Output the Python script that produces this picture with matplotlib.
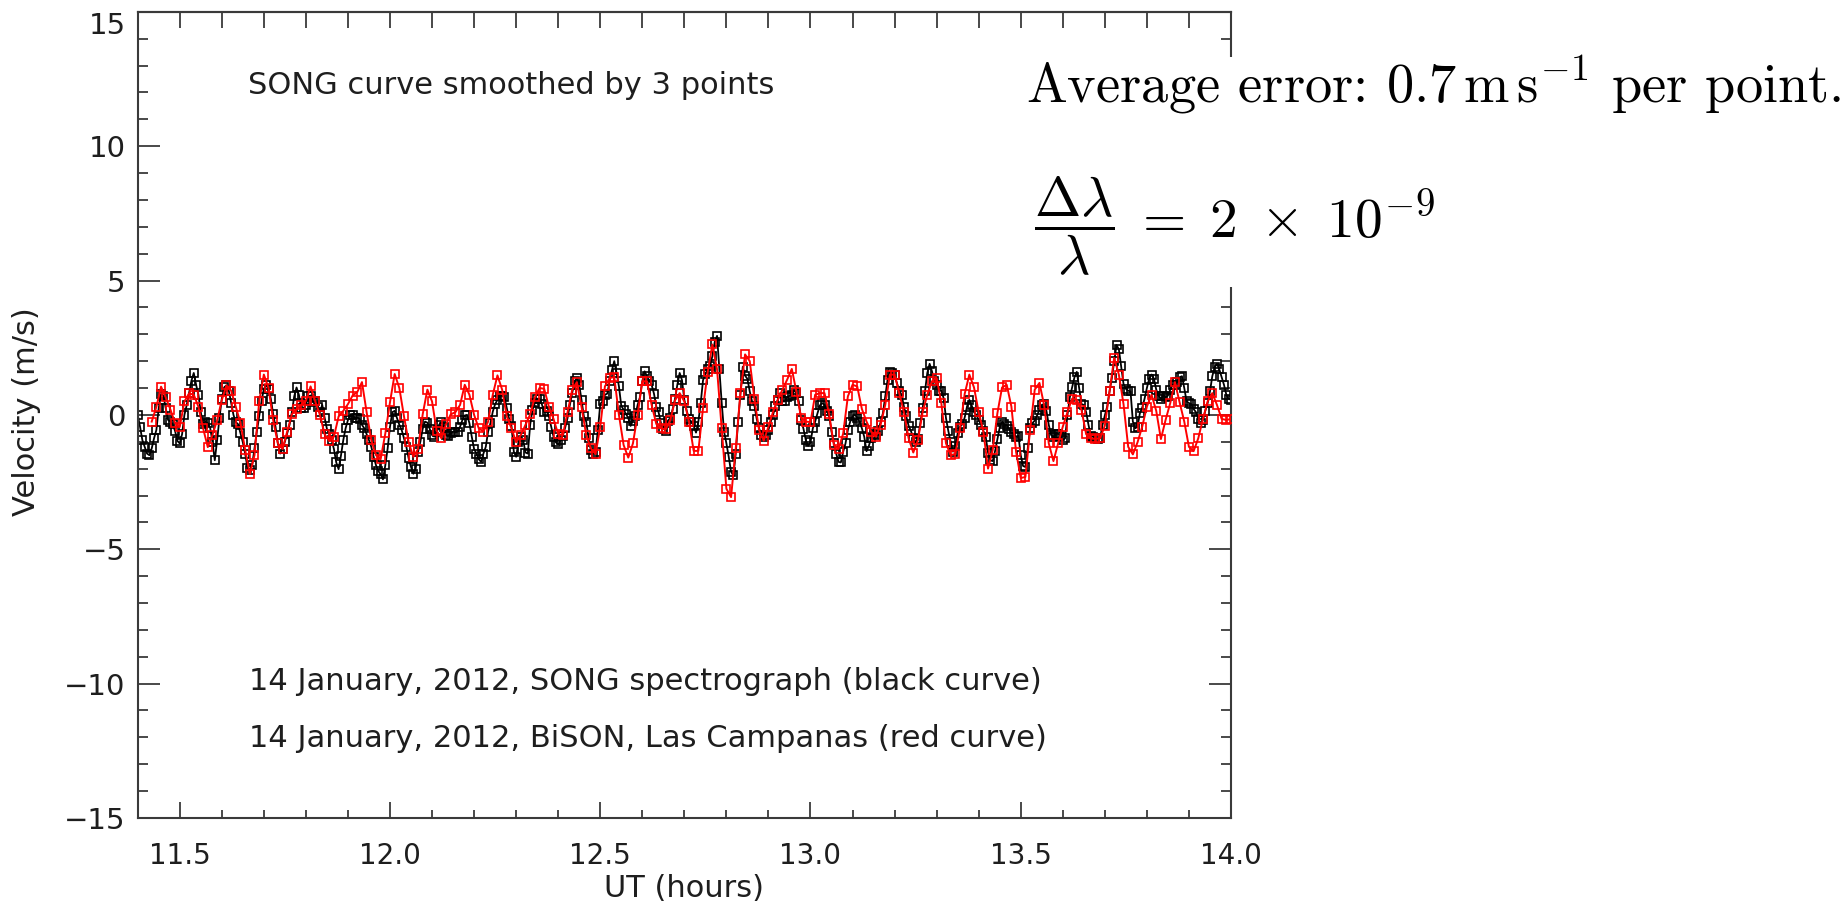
import numpy as np
import matplotlib
matplotlib.use('Agg')
import matplotlib.pyplot as plt
from matplotlib.ticker import MultipleLocator, FormatStrFormatter
from matplotlib.patches import Rectangle

plt.rcParams['mathtext.fontset'] = 'cm'
plt.rcParams['font.family'] = ['DejaVu Sans']

# SONG spectrograph, 20 s cadence, smoothed by 3 points (m/s)
song_start = 11.4
song_step = 20.0 / 3600.0
song_vel = [
    0.0, -0.44, -0.94, -1.19, -1.44, -1.5, -1.25, -0.87, -0.56, 0.25,
    0.78, 0.72, 0.25, -0.19, -0.25, -0.35, -0.6, -0.97, -1.06, -0.72,
    0.0, 0.37, 0.81, 1.27, 1.56, 1.12, 0.75, 0.1, -0.35, -0.25,
    -0.31, -0.47, -1.0, -1.69, -0.94, -0.12, 0.6, 1.02, 1.1, 0.9,
    0.44, 0.0, -0.27, -0.35, -0.69, -1.02, -1.44, -1.97, -2.06, -1.87,
    -1.25, -0.62, -0.06, 0.5, 0.97, 1.1, 0.97, 0.6, 0.02, -0.44,
    -1.06, -1.44, -1.27, -1.0, -0.69, -0.37, 0.1, 0.69, 1.02, 0.75,
    0.25, 0.25, 0.37, 0.69, 0.72, 0.47, 0.52, 0.31, 0.1, 0.37,
    -0.1, -0.52, -0.72, -0.94, -1.27, -1.77, -2.02, -1.52, -0.94, -0.5,
    -0.19, 0.0, -0.02, -0.12, -0.1, -0.15, -0.37, -0.5, -0.72, -0.94,
    -1.19, -1.56, -1.87, -2.09, -2.21, -2.4, -1.87, -1.25, -0.44, 0.1,
    0.15, -0.12, -0.37, -0.56, -0.87, -1.19, -1.62, -1.94, -2.19, -2.0,
    -1.37, -1.0, -0.52, -0.25, -0.29, -0.52, -0.75, -0.81, -0.65, -0.37,
    -0.27, -0.44, -0.75, -0.77, -0.69, -0.62, -0.65, -0.62, -0.44, -0.19,
    -0.02, 0.0, -0.31, -0.81, -1.27, -1.44, -1.65, -1.75, -1.44, -1.19,
    -0.62, -0.31, 0.12, 0.4, 0.56, 0.69, 0.72, 0.65, 0.25, -0.15,
    -0.4, -1.37, -1.56, -1.0, -0.81, -0.94, -1.4, -1.44, -0.37, 0.19,
    0.44, 0.6, 0.6, 0.4, 0.1, 0.15, -0.06, -0.44, -0.81, -1.02,
    -1.1, -0.94, -0.77, -0.47, -0.12, 0.37, 0.81, 1.25, 1.37, 1.12,
    0.55, -0.06, -0.25, -0.87, -1.31, -1.44, -1.37, -0.56, 0.41, 0.5,
    0.75, 0.79, 1.25, 1.66, 2.0, 1.56, 1.06, 0.34, 0.19, 0.04,
    -0.12, -0.41, -0.21, -0.04, 0.37, 0.66, 1.25, 1.62, 1.44, 1.27,
    1.12, 0.79, 0.31, 0.09, -0.31, -0.51, -0.59, -0.21, -0.12, 0.21,
    0.59, 1.12, 1.56, 1.29, 0.56, 0.16, -0.16, -0.25, -0.41, -0.66,
    -0.25, 0.44, 1.29, 1.52, 1.69, 1.81, 2.19, 2.71, 2.94, 1.69,
    0.44, -0.62, -1.06, -1.56, -2.12, -2.25, -1.44, -0.25, 0.75, 1.79,
    1.46, 1.34, 0.87, 0.5, 0.34, -0.16, -0.5, -0.75, -0.81, -0.75,
    -0.56, -0.25, 0.0, 0.34, 0.56, 0.81, 0.5, 0.5, 0.66, 0.71,
    0.75, 0.91, 0.81, 0.5, -0.19, -0.52, -0.94, -1.15, -1.02, -0.5,
    -0.25, 0.06, 0.35, 0.44, 0.37, 0.15, -0.06, -0.62, -1.06, -1.44,
    -1.75, -1.77, -1.37, -1.06, -0.56, -0.25, -0.06, 0.0, -0.1, -0.25,
    -0.5, -0.81, -1.35, -1.15, -0.85, -0.72, -0.75, -0.6, -0.27, 0.06,
    0.69, 1.31, 1.6, 1.56, 1.47, 1.19, 0.9, 0.75, 0.31, -0.06,
    -0.4, -0.6, -0.85, -1.02, -0.9, -0.31, 0.25, 0.87, 1.56, 1.9,
    1.62, 1.25, 1.1, 0.9, 0.9, 0.62, -0.12, -0.6, -1.0, -1.37,
    -1.15, -0.69, -0.44, -0.35, -0.1, 0.31, 0.56, 0.35, 0.1, 0.0,
    -0.19, -0.37, -0.6, -0.81, -1.4, -1.69, -1.72, -1.35, -0.9, -0.47,
    -0.25, -0.35, -0.4, -0.52, -0.65, -0.72, -0.81, -0.77, -1.5, -1.9,
    -1.94, -1.25, -0.5, -0.31, -0.21, -0.02, 0.19, 0.37, 0.4, 0.15,
    -0.37, -0.75, -0.81, -0.72, -0.7, -0.77, -0.94, -0.87, 0.0, 0.65,
    1.02, 1.4, 1.6, 1.0, 0.4, 0.37, 0.1, -0.37, -0.77, -0.82,
    -0.87, -0.9, -0.87, -0.37, -0.02, 0.31, 0.87, 1.37, 2.0, 2.6,
    2.44, 1.81, 1.15, 0.97, 0.9, 0.87, -0.25, -0.5, -0.44, 0.06,
    0.27, 0.6, 1.0, 1.35, 1.5, 1.35, 0.94, 0.72, 0.6, 0.72,
    0.65, 0.72, 0.94, 1.12, 1.12, 1.22, 1.4, 1.44, 1.0, 0.5,
    0.44, 0.4, 0.22, 0.1, -0.15, -0.31, -0.19, 0.15, 0.44, 0.87,
    1.44, 1.77, 1.9, 1.69, 1.4, 1.12, 0.75, 0.6, 0.56,
]

# BiSON Las Campanas, 40 s cadence (m/s)
bison_start = 11.4 + 120.0 / 3600.0
bison_step = 40.0 / 3600.0
bison_vel = [
    -0.25, 0.3, 1.05, 0.65, 0.2, -0.3, -0.45, 0.5, 0.8, 0.75,
    0.3, -0.5, -1.2, -0.75, -0.2, 0.55, 1.1, 0.9, 0.3, -0.3,
    -1.3, -2.2, -1.5, 0.5, 1.5, 1.0, -0.2, -1.06, -1.27, -0.62,
    0.03, 0.22, 0.37, 0.52, 1.06, 0.5, 0.0, -0.72, -0.97, -0.81,
    -0.06, 0.15, 0.4, 0.72, 0.85, 1.22, 0.1, -0.94, -1.5, -1.65,
    -0.69, 0.47, 1.52, 1.0, -0.06, -1.02, -1.56, -1.27, 0.02, 0.94,
    0.5, -0.6, -0.87, -0.35, 0.02, 0.1, 0.37, 1.12, 0.75, 0.0,
    -0.5, -0.62, -0.25, 0.75, 1.47, 0.94, -0.06, -0.5, -1.02, -0.75,
    -0.37, 0.02, 0.65, 1.0, 0.97, 0.31, -0.15, -0.72, -0.75, 0.1,
    0.94, 1.22, 0.29, -0.75, -1.25, -1.46, -0.44, 1.06, 1.37, 1.41,
    0.0, -1.12, -1.59, -1.06, 0.0, 1.25, 1.25, 0.37, -0.34, -0.5,
    -0.54, -0.19, 0.54, 0.81, 0.5, -0.25, -1.34, -1.34, 0.25, 1.6,
    2.62, 1.7, -0.5, -2.75, -3.06, -1.25, 0.81, 2.25, 2.0, 0.59,
    -0.56, -0.96, -0.44, 0.12, 0.56, 0.94, 1.31, 1.71, 0.85, -0.12,
    -0.25, -0.27, 0.75, 0.81, 0.81, 0.02, -1.12, -1.27, -0.69, 0.69,
    1.12, 1.06, 0.22, -0.25, -0.62, -0.81, -0.37, 0.37, 1.5, 1.5,
    0.81, 0.1, -0.87, -1.4, -0.94, 0.1, 0.75, 1.25, 1.37, 0.44,
    -1.06, -1.5, -1.45, -0.5, 0.78, 1.5, 1.02, 0.1, -0.62, -2.0,
    -1.31, 0.06, 1.02, 1.12, 0.31, -1.37, -2.35, -2.31, -0.56, 0.94,
    1.19, 0.37, -1.06, -1.72, -1.06, -0.44, 0.1, 0.6, 0.56, 0.19,
    -0.72, -0.87, -0.9, -0.87, -0.4, 0.87, 2.12, 1.5, 0.4, -1.19,
    -1.47, -1.02, -0.44, 0.31, 0.75, 0.15, -0.9, -0.19, 0.44, 1.22,
    0.47, -0.25, -1.19, -1.35, -0.87, -0.15, 0.5, 0.81, 0.37, -0.15,
    -0.19, -0.15,
]

song_t = song_start + song_step * np.arange(len(song_vel))
bison_t = bison_start + bison_step * np.arange(len(bison_vel))

axis_col = '#3a3a3a'
text_col = '#1e1e1e'

fig = plt.figure(figsize=(18.46, 9.07), dpi=100)
ax = fig.add_axes([0.07459, 0.09813, 0.59225, 0.8889])

ax.plot(song_t, song_vel, color='black', lw=1.3, marker='s', ms=5.4,
        mfc='none', mec='black', mew=1.2, zorder=2)
ax.plot(bison_t, bison_vel, color='red', lw=1.4, marker='s', ms=5.4,
        mfc='none', mec='red', mew=1.2, zorder=3)

ax.set_xlim(11.4, 14.0)
ax.set_ylim(-15, 15)
ax.xaxis.set_major_locator(MultipleLocator(0.5))
ax.xaxis.set_minor_locator(MultipleLocator(0.1))
ax.xaxis.set_major_formatter(FormatStrFormatter('%.1f'))
ax.yaxis.set_major_locator(MultipleLocator(5))
ax.yaxis.set_minor_locator(MultipleLocator(1))

ax.tick_params(axis='both', which='both', direction='in', color=axis_col,
               width=1.3, labelcolor=text_col)
ax.tick_params(axis='x', which='major', length=11.5, pad=17, labelsize=20)
ax.tick_params(axis='x', which='minor', length=5.5)
ax.tick_params(axis='y', which='major', length=15.6, pad=8.6, labelsize=21,
               right=True)
ax.tick_params(axis='y', which='minor', length=7.2, right=True)

# top axis: every tick drawn at full length, no labels
top = ax.secondary_xaxis('top')
top.xaxis.set_major_locator(MultipleLocator(0.1))
top.tick_params(direction='in', length=11.5, width=1.3, color=axis_col,
                labeltop=False)
top.spines['top'].set_color(axis_col)
top.spines['top'].set_linewidth(1.5)

for s in ax.spines.values():
    s.set_color(axis_col)
    s.set_linewidth(1.5)

ax.set_xlabel('UT (hours)', fontsize=22, color=text_col)
ax.set_ylabel('Velocity (m/s)', fontsize=22, color=text_col)
ax.xaxis.set_label_coords(0.5, -0.088)
ax.xaxis.label.set_va('center')
ax.yaxis.set_label_coords(-0.102, 0.504)
ax.yaxis.label.set_va('center')

ax.text(11.663, 11.93, 'SONG curve smoothed by 3 points', fontsize=22,
        va='baseline', color=text_col)
ax.text(11.665, -10.22, '14 January, 2012, SONG spectrograph (black curve)',
        fontsize=22, va='baseline', color=text_col)
ax.text(11.665, -12.34, '14 January, 2012, BiSON, Las Campanas (red curve)',
        fontsize=22, va='baseline', color=text_col)

# white panel for the notes on the right
fig.patches.append(Rectangle((1020 / 1846, 1 - 287 / 907), 826 / 1846, 230 / 907,
                             transform=fig.transFigure, facecolor='white',
                             edgecolor='none', zorder=5))
fig.text(1026 / 1846, 1 - 102 / 907,
         r'Average error: $0.7\,\mathrm{m\,s^{-1}}$ per point.',
         fontfamily='cmr10', fontsize=39.2, va='baseline', ha='left', zorder=6)
fig.text(1034 / 1846, 1 - 226 / 907,
         r'$\dfrac{\Delta\lambda}{\lambda}\;=\;2\;\times\;10^{-9}$',
         fontsize=40, va='center', ha='left', zorder=6)

# the top y label sits just below the upper edge
fig.canvas.draw()
for tk in ax.yaxis.get_major_ticks():
    if abs(tk.get_loc() - 15) < 1e-6:
        tk.label1.set_va('top')

fig.savefig('out.png', dpi=100)
